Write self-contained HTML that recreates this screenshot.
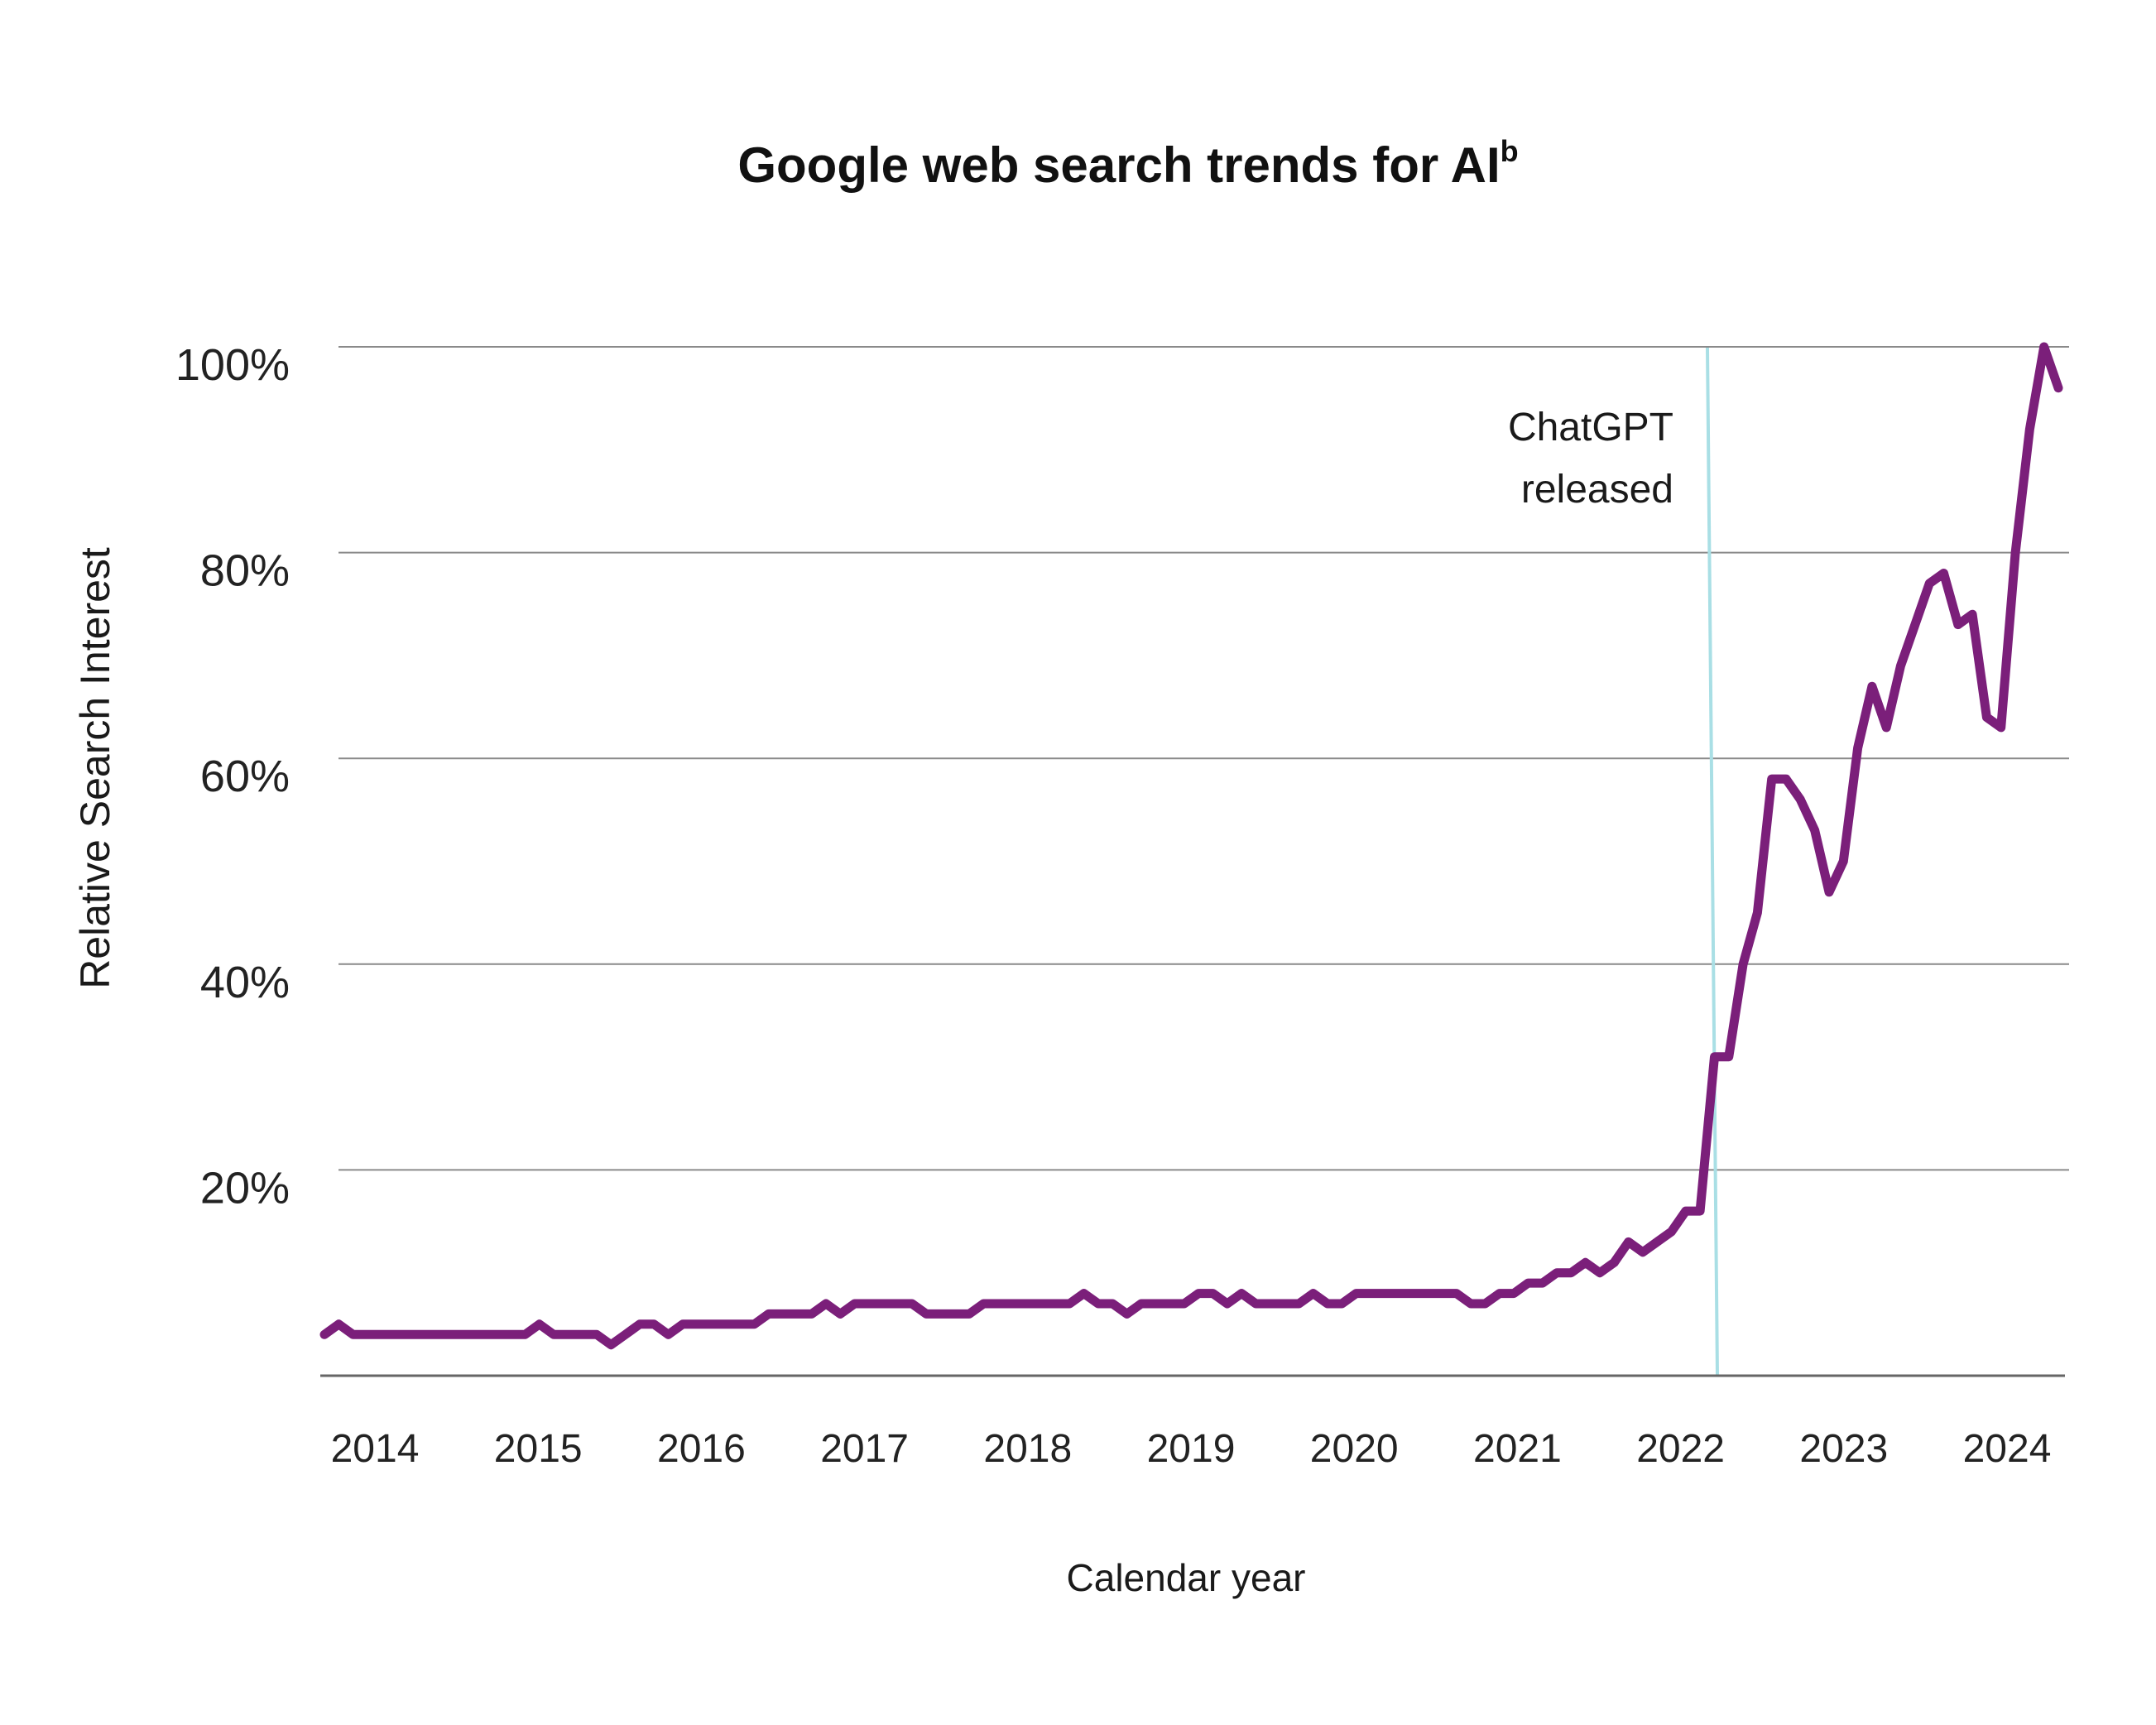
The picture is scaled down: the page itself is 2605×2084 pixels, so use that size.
<!DOCTYPE html>
<html><head><meta charset="utf-8"><style>
html,body{margin:0;padding:0;background:#fff;}
svg{display:block;font-family:"Liberation Sans",sans-serif;}
</style></head><body>
<svg id="chart" width="2605" height="2084" viewBox="0 0 2605 2084" xmlns="http://www.w3.org/2000/svg">
<rect width="2605" height="2084" fill="#fff"/>
<text x="1363" y="220" text-anchor="middle" font-size="60" font-weight="bold" fill="#111">Google web search trends for AI<tspan font-size="36" dy="-25">b</tspan></text>
<g id="grid"></g>
<g id="yticks"></g>
<g id="xticks"></g>
<line x1="2063" y1="420" x2="2075" y2="1662" stroke="#a9dfe5" stroke-width="4"/>
<text text-anchor="end" font-size="48" fill="#1a1a1a"><tspan x="2022" y="532">ChatGPT</tspan><tspan x="2022" y="607">released</tspan></text>
<line x1="387" y1="1662" x2="2495" y2="1662" stroke="#666" stroke-width="3"/>
<g id="series"></g>
<text x="1433" y="1922" text-anchor="middle" font-size="46" fill="#1a1a1a">Calendar year</text>
<text transform="translate(132,928) rotate(-90)" text-anchor="middle" font-size="50" fill="#1a1a1a">Relative Search Interest</text>
</svg>
<script>
const yTicks = [20, 40, 60, 80, 100];
const yTickLabels = ["20%", "40%", "60%", "80%", "100%"];
const years = [2014, 2015, 2016, 2017, 2018, 2019, 2020, 2021, 2022, 2023, 2024];
const interest = [4,5,4,4,4,4,4,4,4,4,4,4,4,4,4,5,4,4,4,4,3,4,5,5,4,5,5,5,5,5,5,6,6,6,6,7,6,7,7,7,7,7,6,6,6,6,7,7,7,7,7,7,7,8,7,7,6,7,7,7,7,8,8,7,8,7,7,7,7,8,7,7,8,8,8,8,8,8,8,8,7,7,8,8,9,9,10,10,11,10,11,13,12,13,14,16,16,31,31,40,45,58,58,56,53,47,50,61,67,63,69,73,77,78,73,74,64,63,80,92,100,96];

const NS = "http://www.w3.org/2000/svg";
function yScale(v){ return 1662 - v * (1662 - 419) / 100; }
function xIndex(i){ return 392 + i * (2487 - 392) / (interest.length - 1); }
function xYear(y){ return 453 + (y - years[0]) * (2425 - 453) / (years[years.length-1] - years[0]); }

const grid = document.getElementById('grid');
const yt = document.getElementById('yticks');
yTicks.forEach((v, k) => {
  const l = document.createElementNS(NS, 'line');
  
  
  l.setAttribute('x1', 409); l.setAttribute('x2', 2500);
  l.setAttribute('y1', yScale(v)); l.setAttribute('y2', yScale(v));
  l.setAttribute('stroke', '#8a8a8a'); l.setAttribute('stroke-width', 2);
  grid.appendChild(l);
  const t = document.createElementNS(NS, 'text');
  
  
  t.setAttribute('x', 350); t.setAttribute('y', yScale(v) + 40);
  t.setAttribute('text-anchor', 'end'); t.setAttribute('font-size', 54);
  t.setAttribute('fill', '#222');
  t.textContent = yTickLabels[k];
  yt.appendChild(t);
});
const xt = document.getElementById('xticks');
years.forEach(y => {
  const t = document.createElementNS(NS, 'text');
  
  
  t.setAttribute('x', xYear(y)); t.setAttribute('y', 1766);
  t.setAttribute('text-anchor', 'middle'); t.setAttribute('font-size', 48);
  t.setAttribute('fill', '#222');
  t.textContent = y;
  xt.appendChild(t);
});
const pts = interest.map((v, i) => xIndex(i).toFixed(1) + ',' + yScale(v).toFixed(1)).join(' ');
const pl = document.createElementNS(NS, 'polyline');


pl.setAttribute('points', pts);
pl.setAttribute('fill', 'none'); pl.setAttribute('stroke', '#7b1f7a');
pl.setAttribute('stroke-width', 11); pl.setAttribute('stroke-linejoin', 'round');
pl.setAttribute('stroke-linecap', 'round');
document.getElementById('series').appendChild(pl);
</script>
</body></html>
